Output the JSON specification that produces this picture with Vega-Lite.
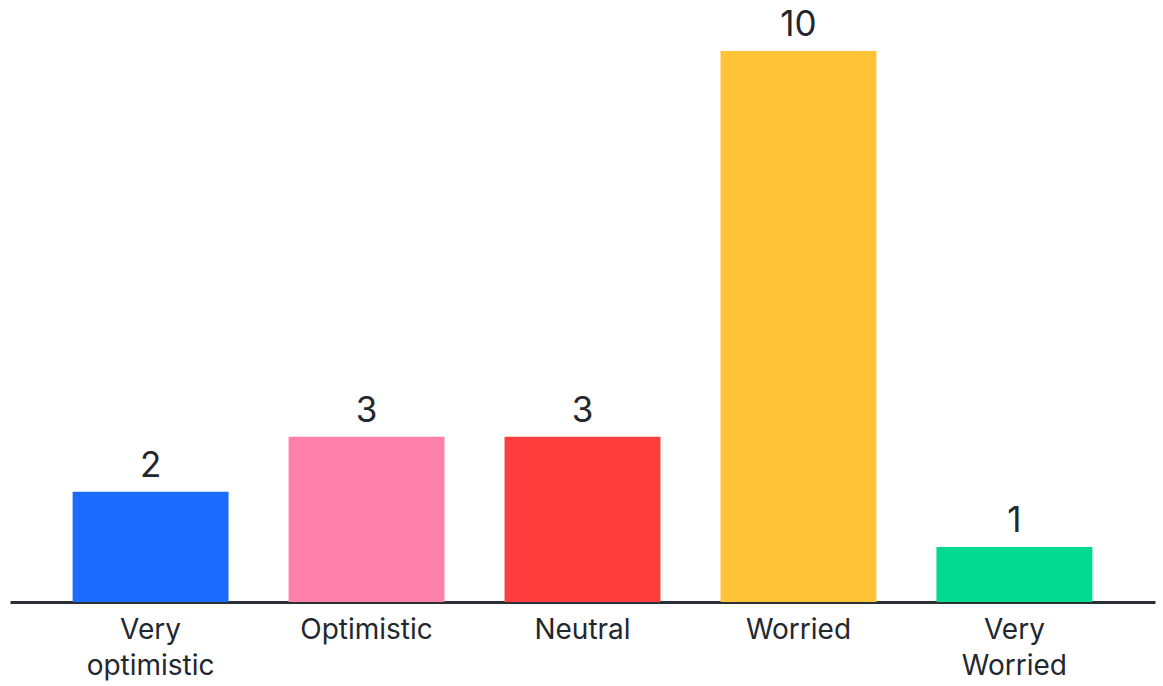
{
  "$schema": "https://vega.github.io/schema/vega-lite/v6.json",
  "width": 1145,
  "height": 551,
  "autosize": "none",
  "padding": {"left": 10, "top": 51, "right": 8, "bottom": 84},
  "background": "#ffffff",
  "config": {"view": {"stroke": null}, "font": "Inter"},
  "data": {
    "values": [
      {"category": "Very optimistic", "count": 2},
      {"category": "Optimistic", "count": 3},
      {"category": "Neutral", "count": 3},
      {"category": "Worried", "count": 10},
      {"category": "Very Worried", "count": 1}
    ]
  },
  "encoding": {
    "x": {
      "field": "category",
      "type": "nominal",
      "sort": null,
      "scale": {"paddingInner": 0.278, "paddingOuter": 0.29},
      "axis": {
        "title": null,
        "labelAngle": 0,
        "domain": true,
        "domainColor": "#2b2f36",
        "domainWidth": 3,
        "ticks": false,
        "labelFontSize": 28,
        "labelColor": "#23272e",
        "labelLineHeight": 36,
        "labelPadding": 14,
        "labelExpr": "split(datum.value, ' ')"
      }
    },
    "y": {
      "field": "count",
      "type": "quantitative",
      "scale": {"domain": [0, 10]},
      "axis": null
    }
  },
  "layer": [
    {
      "mark": {"type": "bar"},
      "encoding": {
        "color": {
          "field": "category",
          "type": "nominal",
          "scale": {
            "domain": ["Very optimistic", "Optimistic", "Neutral", "Worried", "Very Worried"],
            "range": ["#1c6bff", "#ff80ab", "#ff3d3d", "#ffc338", "#00d98f"]
          },
          "legend": null
        }
      }
    },
    {
      "mark": {"type": "text", "baseline": "bottom", "dy": -8, "fontSize": 35, "color": "#23272e"},
      "encoding": {"text": {"field": "count", "type": "quantitative"}}
    }
  ]
}
